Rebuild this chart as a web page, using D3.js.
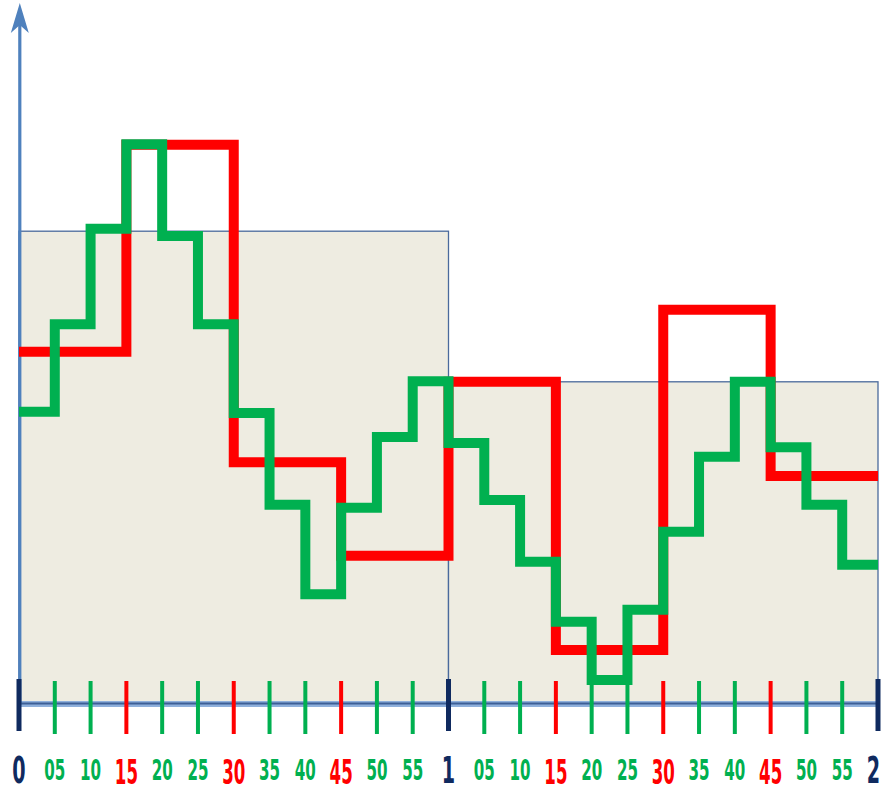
<!DOCTYPE html>
<html>
<head>
<meta charset="utf-8">
<script src="https://cdn.jsdelivr.net/npm/d3@7"></script>
<style>
  html, body { margin: 0; padding: 0; background: #ffffff; }
  svg { display: block; }
</style>
</head>
<body>
<svg id="chart" width="881" height="792"></svg>
<script>
// Two hours of a measured quantity: hourly value, 15-minute values, 5-minute values
const hourStarts = [0, 60];
const hourlyValues = [78.8, 53.7];
const quarterValues = [58.7, 93.2, 40.3, 24.7, 53.7, 9.0, 65.7, 38.0];
const fiveMinValues = [
  48.7, 63.3, 79.2, 93.3, 78.0, 63.3, 48.5, 33.2, 18.3, 32.7, 44.5, 53.8,
  43.5, 34.0, 23.7, 13.7, 4.0, 15.7, 28.7, 41.2, 53.7, 42.8, 33.2, 23.2
];
const tickLabels = [
  "0", "05", "10", "15", "20", "25", "30", "35", "40", "45", "50", "55",
  "1", "05", "10", "15", "20", "25", "30", "35", "40", "45", "50", "55",
  "2"
];

const GREEN = "#00b050", RED = "#ff0000", NAVY = "#0f2a5f";
const BEIGE = "#eeece1", FRAME = "#4a6a9c", AXIS = "#4f81bd";

const svg = d3.select("#chart");
const x = d3.scaleLinear().domain([0, 120]).range([19, 878]);
const y = d3.scaleLinear().domain([0, 100]).range([704, 104]);

// hourly blocks
svg.selectAll("rect.hour")
  .data(hourStarts)
  .join("rect")
  .attr("class", "hour")
  .attr("x", (d) => x(d))
  .attr("y", (d, i) => y(hourlyValues[i]))
  .attr("width", (d) => x(d + 60) - x(d))
  .attr("height", (d, i) => y(0) - y(hourlyValues[i]))
  .attr("fill", BEIGE)
  .attr("stroke", FRAME)
  .attr("stroke-width", 1.3);

// horizontal time axis
svg.append("line")
  .attr("x1", x(0)).attr("x2", x(120))
  .attr("y1", y(0)).attr("y2", y(0))
  .attr("stroke", "#8fb0dc").attr("stroke-width", 6);
svg.append("line")
  .attr("x1", x(0)).attr("x2", x(120))
  .attr("y1", y(0) - 0.5).attr("y2", y(0) - 0.5)
  .attr("stroke", "#3d5f96").attr("stroke-width", 2.2);

// vertical value axis with arrow head
const ax = x(0) + 0.8;
svg.append("line")
  .attr("x1", ax).attr("x2", ax)
  .attr("y1", y(0)).attr("y2", 22)
  .attr("stroke", AXIS).attr("stroke-width", 3.2);
svg.append("path")
  .attr("d", `M${ax},3 L${ax + 9},33 L${ax},25 L${ax - 9},33 Z`)
  .attr("fill", AXIS);

// step series
function stepPoints(values, step) {
  const pts = values.map((v, i) => [i * step, v]);
  pts.push([values.length * step, values[values.length - 1]]);
  return pts;
}
const stepLine = d3.line()
  .x((d) => x(d[0]))
  .y((d) => y(d[1]))
  .curve(d3.curveStepAfter);

svg.append("path")
  .datum(stepPoints(quarterValues, 15))
  .attr("d", stepLine)
  .attr("fill", "none")
  .attr("stroke", RED)
  .attr("stroke-width", 10)
  .attr("stroke-linejoin", "miter")
  .attr("stroke-linecap", "butt");

svg.append("path")
  .datum(stepPoints(fiveMinValues, 5))
  .attr("d", stepLine)
  .attr("fill", "none")
  .attr("stroke", GREEN)
  .attr("stroke-width", 10)
  .attr("stroke-linejoin", "miter")
  .attr("stroke-linecap", "butt");

// ticks and labels every 5 minutes
const tickData = tickLabels.map((label, i) => ({
  label,
  t: i * 5,
  kind: i % 12 === 0 ? "hour" : (i % 3 === 0 ? "quarter" : "five"),
  last: i === tickLabels.length - 1
}));
const tickColor = { hour: NAVY, quarter: RED, five: GREEN };
const tickWidth = { hour: 5, quarter: 4, five: 4 };
const labelSize = { hour: 38, quarter: 33, five: 28 };
const labelScale = { hour: 0.56, quarter: 0.56, five: 0.6 };
const labelBase = { hour: 783, quarter: 784, five: 780 };

svg.selectAll("line.tick")
  .data(tickData)
  .join("line")
  .attr("class", "tick")
  .attr("x1", (d) => x(d.t)).attr("x2", (d) => x(d.t))
  .attr("y1", (d) => (d.kind === "hour" ? 679 : 681))
  .attr("y2", (d) => (d.kind === "hour" ? 731 : 734))
  .attr("stroke", (d) => tickColor[d.kind])
  .attr("stroke-width", (d) => tickWidth[d.kind]);

// the final hour label sits against the right edge, so it is right-aligned
svg.selectAll("text.tick-label")
  .data(tickData)
  .join("text")
  .attr("class", "tick-label")
  .attr("transform", (d) => `translate(${d.last ? 880 : x(d.t)},${labelBase[d.kind]}) scale(${labelScale[d.kind]},1)`)
  .attr("text-anchor", (d) => (d.last ? "end" : "middle"))
  .attr("font-family", "'Liberation Sans Narrow', 'DejaVu Sans Condensed', sans-serif")
  .attr("font-weight", "bold")
  .attr("font-size", (d) => labelSize[d.kind])
  .attr("fill", (d) => tickColor[d.kind])
  .text((d) => d.label);
</script>
</body>
</html>
